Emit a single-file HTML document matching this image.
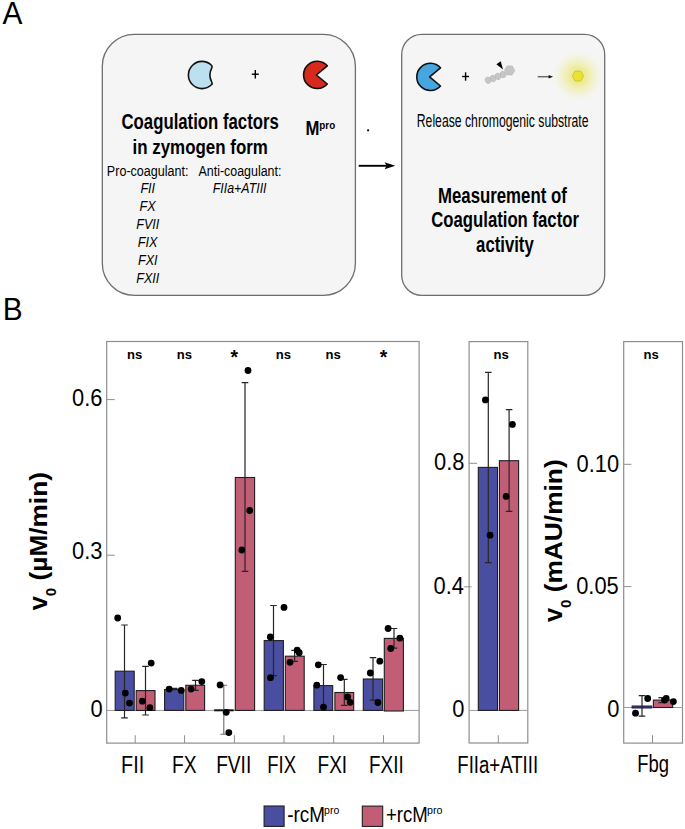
<!DOCTYPE html>
<html><head><meta charset="utf-8">
<style>
html,body{margin:0;padding:0;background:#fff;width:685px;height:829px;overflow:hidden}
svg{display:block}
text{font-family:"Liberation Sans",sans-serif;fill:#000}
</style></head><body>
<svg width="685" height="829" viewBox="0 0 685 829">
<defs>
<radialGradient id="glow" cx="0.5" cy="0.5" r="0.5">
<stop offset="0" stop-color="#e8e452" stop-opacity="0.85"/>
<stop offset="0.35" stop-color="#ebe874" stop-opacity="0.65"/>
<stop offset="0.7" stop-color="#efeda6" stop-opacity="0.3"/>
<stop offset="1" stop-color="#f5f5f5" stop-opacity="0"/>
</radialGradient>
</defs>

<!-- ========== PANEL A ========== -->
<rect x="102.3" y="34.4" width="253.1" height="260.9" rx="32" ry="32" fill="#f5f5f5" stroke="#6e6e6e" stroke-width="1.3"/>
<rect x="401.7" y="34.4" width="203" height="260.9" rx="20" ry="20" fill="#f5f5f5" stroke="#6e6e6e" stroke-width="1.3"/>

<!-- box1 icons -->
<path d="M211.71 68.15 Q212.68 66.58 211.45 65.22 A13.6 13.6 0 1 0 211.45 84.78 Q212.68 83.43 211.71 81.85 A14.6 14.6 0 0 1 211.71 68.15 Z" fill="#bde0f1" stroke="#111" stroke-width="1.6" stroke-linejoin="round"/>
<g stroke="#000" stroke-width="1.4"><line x1="251.8" y1="74.2" x2="258.8" y2="74.2"/><line x1="255.3" y1="70" x2="255.3" y2="78.4"/></g>
<path d="M327.3 65.8 A13.6 13.6 0 1 0 327.3 84 L316.4 75 Z" fill="#d8291d" stroke="#111" stroke-width="1.6" stroke-linejoin="round"/>
<circle cx="368.1" cy="130.3" r="1.1" fill="#000"/>

<!-- arrow between boxes -->
<line x1="358.7" y1="165.8" x2="388" y2="165.8" stroke="#000" stroke-width="1.9"/>
<path d="M395.3 165.7 L384.6 162.2 L386.6 165.7 L384.6 169.2 Z" fill="#000"/>

<!-- box2 icons -->
<path d="M440.5 67.8 A13.6 13.6 0 1 0 440.5 86 L429.6 76.9 Z" fill="#46a6df" stroke="#111" stroke-width="1.6" stroke-linejoin="round"/>
<g stroke="#000" stroke-width="1.4"><line x1="462.1" y1="76.5" x2="469.1" y2="76.5"/><line x1="465.6" y1="72.3" x2="465.6" y2="80.7"/></g>
<g fill="#c6c6c6" stroke="#b4b4b4" stroke-width="0.6">
<ellipse cx="488" cy="80.3" rx="2.7" ry="3.3" transform="rotate(-25 488 80.3)"/>
<ellipse cx="493" cy="78.5" rx="2.7" ry="3.3" transform="rotate(-25 493 78.5)"/>
<ellipse cx="497.9" cy="76.4" rx="2.7" ry="3.3" transform="rotate(-25 497.9 76.4)"/>
<ellipse cx="503" cy="74.5" rx="2.7" ry="3.3" transform="rotate(-25 503 74.5)"/>
<path d="M504.4 70.4 L507 65.9 L512.2 65.9 L514.8 70.4 L512.2 74.9 L507 74.9 Z"/>
</g>
<path d="M496.4 64.2 L500.7 61.3 L503 69.6 Z" fill="#000"/>
<line x1="537.7" y1="76.7" x2="549.5" y2="76.7" stroke="#6a6a6a" stroke-width="1.5"/>
<path d="M553.1 76.7 L548.6 74.9 L548.6 78.5 Z" fill="#111"/>
<circle cx="578" cy="76.1" r="27" fill="url(#glow)"/>
<path d="M572.4 76.1 L575.2 71.1 L580.8 71.1 L583.6 76.1 L580.8 81.1 L575.2 81.1 Z" fill="#ebe232" stroke="#b5ad3a" stroke-width="0.6"/>

<!-- ========== PANEL B ========== -->
<!-- axis titles -->
<g transform="translate(46.9,610.3) rotate(-90)">
<text font-weight="bold" font-size="25.5" x="0" y="0">v</text>
<text font-weight="bold" font-size="15" x="14" y="9">0</text>
<text font-weight="bold" font-size="24.8" x="29.9" y="0" textLength="108.3" lengthAdjust="spacingAndGlyphs">(µM/min)</text>
</g>
<g transform="translate(561.6,622) rotate(-90)">
<text font-weight="bold" font-size="25.5" x="0" y="0">v</text>
<text font-weight="bold" font-size="15" x="14" y="9">0</text>
<text font-weight="bold" font-size="24.8" x="29.7" y="0" textLength="133" lengthAdjust="spacingAndGlyphs">(mAU/min)</text>
</g>

<!-- chart 1 -->
<rect x="106.7" y="341.5" width="312.4" height="401.6" fill="none" stroke="#8e8e8e" stroke-width="1.2"/>
<line x1="106.7" y1="710.4" x2="419.1" y2="710.4" stroke="#9a9a9a" stroke-width="1"/>
<g stroke="#8e8e8e" stroke-width="1">
<line x1="106.7" y1="399.6" x2="114.7" y2="399.6"/>
<line x1="106.7" y1="555.2" x2="114.7" y2="555.2"/>
<line x1="135.2" y1="735.2" x2="135.2" y2="743"/>
<line x1="184.6" y1="735.2" x2="184.6" y2="743"/>
<line x1="234.4" y1="735.2" x2="234.4" y2="743"/>
<line x1="284" y1="735.2" x2="284" y2="743"/>
<line x1="333.7" y1="735.2" x2="333.7" y2="743"/>
<line x1="383.5" y1="735.2" x2="383.5" y2="743"/>
</g>

<!-- bars -->
<g stroke="#1e1e22" stroke-width="1.1">
<rect x="115.2" y="671.2" width="19" height="39.2" fill="#4a4ea0"/>
<rect x="136.2" y="690.6" width="18.8" height="19.8" fill="#c15e76"/>
<rect x="164.6" y="689.5" width="19.2" height="20.9" fill="#4a4ea0"/>
<rect x="185.8" y="685.3" width="18.8" height="25.1" fill="#c15e76"/>
<rect x="235.3" y="477.5" width="19.3" height="232.9" fill="#c15e76"/>
<rect x="264.2" y="640.6" width="19.2" height="69.8" fill="#4a4ea0"/>
<rect x="285.3" y="656.2" width="18.9" height="54.2" fill="#c15e76"/>
<rect x="313.9" y="685.6" width="18.8" height="24.8" fill="#4a4ea0"/>
<rect x="334.9" y="692.5" width="18.8" height="17.9" fill="#c15e76"/>
<rect x="363.3" y="679" width="19.3" height="31.4" fill="#4a4ea0"/>
<rect x="384.3" y="638.4" width="19.1" height="72.6" fill="#c15e76"/>
</g>
<line x1="214.2" y1="710.3" x2="233.7" y2="710.3" stroke="#111" stroke-width="2"/>

<!-- error bars -->
<g stroke="#262626" stroke-width="1.2" fill="none">
<path d="M124.5 625V717.8M121.2 625H127.8M121.2 717.8H127.8"/>
<path d="M145.5 666.3V715M142.2 666.3H148.8M142.2 715H148.8"/>
<path d="M174.2 688.4V690.6M170.9 688.4H177.5"/>
<path d="M195.5 680.3V690.4M192.2 680.3H198.8M192.2 690.4H198.8"/>
<path d="M245 382.6V571.3M241.7 382.6H248.3M241.7 571.3H248.3"/>
<path d="M273.5 605.5V675.6M270.2 605.5H276.8M270.2 675.6H276.8"/>
<path d="M294.6 650.3V661.3M291.3 650.3H297.9M291.3 661.3H297.9"/>
<path d="M323.5 664.5V706.7M320.2 664.5H326.8M320.2 706.7H326.8"/>
<path d="M344.3 679.3V705.4M341 679.3H347.6M341 705.4H347.6"/>
<path d="M373 657.7V700.2M369.7 657.7H376.3M369.7 700.2H376.3"/>
<path d="M394 628.5V648.2M390.7 628.5H397.3M390.7 648.2H397.3"/>
</g>
<path d="M223.8 685.3V734.2M220.5 685.3H227.1M220.5 734.2H227.1" stroke="#6a6a6a" stroke-width="1.1" fill="none"/>

<!-- dots -->
<g fill="#000">
<circle cx="117.7" cy="618" r="3.4"/><circle cx="125.3" cy="693.1" r="3.4"/><circle cx="129.5" cy="703.1" r="3.4"/>
<circle cx="151.2" cy="663.1" r="3.4"/><circle cx="142.3" cy="701.2" r="3.4"/><circle cx="149.9" cy="707.7" r="3.4"/>
<circle cx="169.2" cy="689.1" r="3.4"/><circle cx="181.2" cy="690.4" r="3.4"/>
<circle cx="201.8" cy="681.6" r="3.4"/><circle cx="191.1" cy="689.1" r="3.4"/>
<circle cx="220.1" cy="684.9" r="3.4"/><circle cx="226.2" cy="712.3" r="3.4"/><circle cx="228.8" cy="732.6" r="3.4"/>
<circle cx="248" cy="370.5" r="3.4"/><circle cx="249.7" cy="510.5" r="3.4"/><circle cx="241.8" cy="550" r="3.4"/>
<circle cx="284" cy="607.4" r="3.4"/><circle cx="270.3" cy="637" r="3.4"/><circle cx="270.5" cy="677.7" r="3.4"/>
<circle cx="297.2" cy="650.1" r="3.4"/><circle cx="299.2" cy="652.7" r="3.4"/><circle cx="290" cy="662.3" r="3.4"/>
<circle cx="318.3" cy="664.8" r="3.4"/><circle cx="316.8" cy="685.2" r="3.4"/><circle cx="323.5" cy="707.1" r="3.4"/>
<circle cx="340.6" cy="677.6" r="3.4"/><circle cx="347.6" cy="696.9" r="3.4"/><circle cx="350.2" cy="702.3" r="3.4"/>
<circle cx="379.8" cy="661.2" r="3.4"/><circle cx="370.3" cy="673" r="3.4"/><circle cx="377.9" cy="702.5" r="3.4"/>
<circle cx="388.1" cy="628.5" r="3.4"/><circle cx="399.9" cy="638.2" r="3.4"/><circle cx="390.7" cy="648.5" r="3.4"/>
</g>

<!-- chart 2 -->
<rect x="469.1" y="341.6" width="58.7" height="401.4" fill="none" stroke="#8e8e8e" stroke-width="1.2"/>
<line x1="469.1" y1="710.4" x2="527.8" y2="710.4" stroke="#9a9a9a" stroke-width="1"/>
<g stroke="#8e8e8e" stroke-width="1">
<line x1="469.1" y1="463.3" x2="477" y2="463.3"/>
<line x1="464.2" y1="586.8" x2="471.6" y2="586.8"/>
<line x1="498.3" y1="735.2" x2="498.3" y2="743"/>
</g>
<g stroke="#1e1e22" stroke-width="1.1">
<rect x="478.3" y="467.4" width="19.2" height="243" fill="#4a4ea0"/>
<rect x="499.4" y="460.7" width="19.2" height="249.7" fill="#c15e76"/>
</g>
<g stroke="#262626" stroke-width="1.2" fill="none">
<path d="M488.3 372.3V562.6M485 372.3H491.6M485 562.6H491.6"/>
<path d="M509.1 409.7V511.4M505.8 409.7H512.4M505.8 511.4H512.4"/>
</g>
<g fill="#000">
<circle cx="485.4" cy="399.9" r="3.4"/><circle cx="490.1" cy="535.2" r="3.4"/>
<circle cx="512.4" cy="424.4" r="3.4"/><circle cx="506.1" cy="496.4" r="3.4"/>
</g>

<!-- chart 3 -->
<rect x="623.7" y="341.6" width="58.8" height="401.5" fill="none" stroke="#8e8e8e" stroke-width="1.2"/>
<line x1="623.7" y1="707.5" x2="682.5" y2="707.5" stroke="#9a9a9a" stroke-width="1"/>
<g stroke="#8e8e8e" stroke-width="1">
<line x1="623.7" y1="464.3" x2="631.4" y2="464.3"/>
<line x1="623.7" y1="586.6" x2="631.4" y2="586.6"/>
<line x1="652.5" y1="735.2" x2="652.5" y2="743"/>
</g>
<rect x="632.1" y="706" width="19.7" height="2" fill="#3a3f95" stroke="#1c1c3c" stroke-width="1"/>
<rect x="653.4" y="700.1" width="19.3" height="7.4" fill="#c15e76" stroke="#1e1e22" stroke-width="1.1"/>
<g stroke="#262626" stroke-width="1.2" fill="none">
<path d="M642 695.7V716.1M638.7 695.7H645.3M638.7 716.1H645.3"/>
<path d="M661.7 697.6V702.6M658.4 697.6H665M658.4 702.6H665"/>
</g>
<g fill="#000">
<circle cx="647.7" cy="698.5" r="3.4"/><circle cx="635.5" cy="713.2" r="3.4"/>
<circle cx="666.2" cy="698.5" r="3.4"/><circle cx="664.8" cy="700.3" r="3.2"/><circle cx="673.4" cy="701.6" r="3.4"/>
</g>

<!-- legend -->
<rect x="264.1" y="806" width="20" height="20.4" fill="#4a4ea0" stroke="#1e1e22" stroke-width="1.1"/>
<rect x="362.3" y="806.1" width="20.4" height="20.3" fill="#c15e76" stroke="#1e1e22" stroke-width="1.1"/>
<text font-size="31.3" transform="translate(2.44 23.80) scale(0.9540 1)">A</text>
<text font-size="31.3" transform="translate(2.65 320.00) scale(0.9545 1)">B</text>
<text font-weight="bold" font-size="21.8" transform="translate(121.51 128.80) scale(0.7688 1)">Coagulation factors</text>
<text font-weight="bold" font-size="20.2" transform="translate(132.52 153.60) scale(0.8380 1)">in zymogen form</text>
<text font-weight="bold" font-size="20.4" transform="translate(305.48 135.00) scale(0.8202 1)">M</text>
<text font-weight="bold" font-size="11.5" transform="translate(319.35 128.60) scale(0.8546 1)">pro</text>
<text font-size="15" transform="translate(106.87 175.50) scale(0.8372 1)">Pro-coagulant:</text>
<text font-size="15" transform="translate(198.48 175.50) scale(0.8291 1)">Anti-coagulant:</text>
<text font-style="italic" font-size="14.5" transform="translate(140.42 193.10) scale(0.8700 1)">FII</text>
<text font-style="italic" font-size="14.5" transform="translate(139.45 210.90) scale(0.8700 1)">FX</text>
<text font-style="italic" font-size="14.5" transform="translate(136.21 228.90) scale(0.8700 1)">FVII</text>
<text font-style="italic" font-size="14.5" transform="translate(137.70 246.70) scale(0.8700 1)">FIX</text>
<text font-style="italic" font-size="14.5" transform="translate(137.96 264.60) scale(0.8700 1)">FXI</text>
<text font-style="italic" font-size="14.5" transform="translate(136.21 282.50) scale(0.8700 1)">FXII</text>
<text font-style="italic" font-size="14.5" transform="translate(212.82 193.10) scale(0.8526 1)">FIIa+ATIII</text>
<text font-size="18.3" transform="translate(416.80 126.60) scale(0.6677 1)">Release chromogenic substrate</text>
<text font-weight="bold" font-size="21.7" transform="translate(437.98 203.20) scale(0.7746 1)">Measurement of</text>
<text font-weight="bold" font-size="21.5" transform="translate(431.21 227.20) scale(0.7784 1)">Coagulation factor</text>
<text font-weight="bold" font-size="21.5" transform="translate(476.11 251.60) scale(0.7771 1)">activity</text>
<text font-size="24.7" transform="translate(72.09 405.95) scale(0.8860 1)">0.6</text>
<text font-size="24.7" transform="translate(72.09 558.75) scale(0.8860 1)">0.3</text>
<text font-size="24.7" transform="translate(90.53 717.45) scale(0.8860 1)">0</text>
<text font-size="24.7" transform="translate(434.08 469.75) scale(0.8860 1)">0.8</text>
<text font-size="24.7" transform="translate(433.57 593.55) scale(0.8860 1)">0.4</text>
<text font-size="24.7" transform="translate(452.23 717.45) scale(0.8860 1)">0</text>
<text font-size="24.7" transform="translate(576.51 472.20) scale(0.8860 1)">0.10</text>
<text font-size="24.7" transform="translate(576.18 593.85) scale(0.8860 1)">0.05</text>
<text font-size="24.7" transform="translate(607.23 717.15) scale(0.8860 1)">0</text>
<text font-weight="bold" font-size="13.5" transform="translate(127.10 359.20) scale(0.9700 1)">ns</text>
<text font-weight="bold" font-size="13.5" transform="translate(176.70 359.20) scale(0.9700 1)">ns</text>
<text font-weight="bold" font-size="13.5" transform="translate(275.80 359.20) scale(0.9700 1)">ns</text>
<text font-weight="bold" font-size="13.5" transform="translate(325.60 359.20) scale(0.9700 1)">ns</text>
<text font-weight="bold" font-size="13.5" transform="translate(493.40 359.20) scale(0.9700 1)">ns</text>
<text font-weight="bold" font-size="13.5" transform="translate(643.50 359.20) scale(0.9700 1)">ns</text>
<text font-weight="bold" font-size="21" transform="translate(230.42 364.30) scale(0.9200 1)">*</text>
<text font-weight="bold" font-size="21" transform="translate(379.82 364.30) scale(0.9200 1)">*</text>
<text font-size="23.7" transform="translate(121.07 772.80) scale(0.8378 1)">FII</text>
<text font-size="23.7" transform="translate(171.92 772.80) scale(0.8117 1)">FX</text>
<text font-size="23.7" transform="translate(216.13 772.80) scale(0.8087 1)">FVII</text>
<text font-size="23.7" transform="translate(267.28 772.80) scale(0.7814 1)">FIX</text>
<text font-size="23.7" transform="translate(317.54 772.80) scale(0.8033 1)">FXI</text>
<text font-size="23.7" transform="translate(369.05 772.80) scale(0.7960 1)">FXII</text>
<text font-size="23.7" transform="translate(457.27 772.80) scale(0.7855 1)">FIIa+ATIII</text>
<text font-size="23.7" transform="translate(637.29 771.80) scale(0.7788 1)">Fbg</text>
<text font-size="22.5" transform="translate(287.26 821.50) scale(0.8402 1)">-rcM</text>
<text font-size="11.8" transform="translate(324.12 814.00) scale(0.8925 1)">pro</text>
<text font-size="22.5" transform="translate(385.99 821.50) scale(0.8263 1)">+rcM</text>
<text font-size="11.8" transform="translate(427.01 814.00) scale(0.9051 1)">pro</text>
</svg>
</body></html>
